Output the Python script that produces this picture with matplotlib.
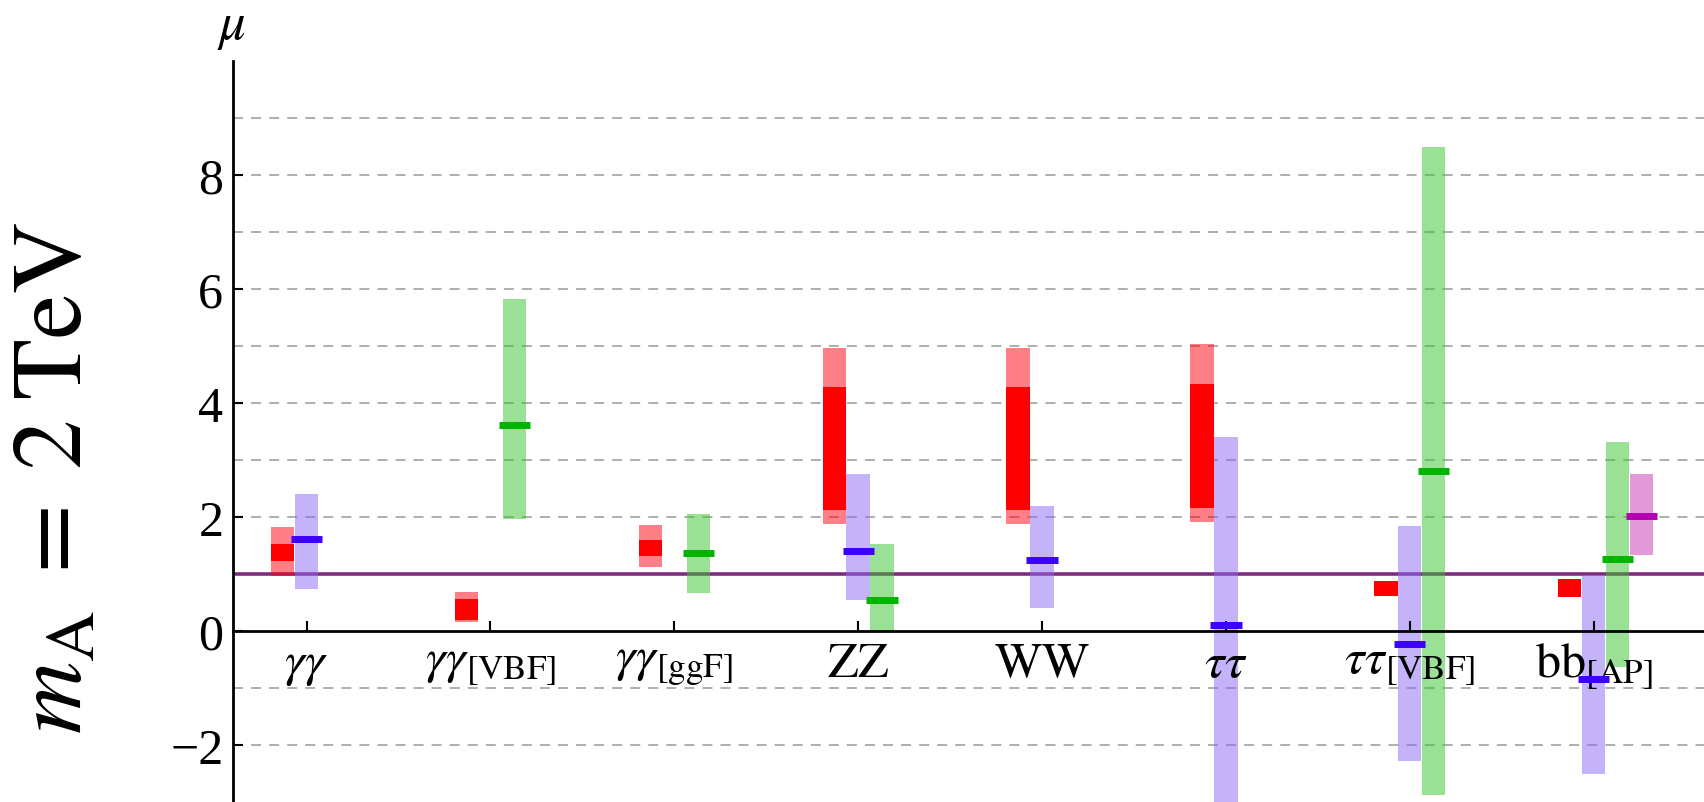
import numpy as np
import matplotlib
matplotlib.use("Agg")
import matplotlib.pyplot as plt

plt.rcParams['font.family'] = ['Liberation Serif', 'DejaVu Serif']
plt.rcParams['mathtext.fontset'] = 'stix'
plt.rcParams['lines.scale_dashes'] = False

nan = np.nan

channels = [r'$\gamma\gamma$', r'$\gamma\gamma_{[\mathrm{VBF}]}$', r'$\gamma\gamma_{[\mathrm{ggF}]}$',
            r'$\mathrm{ZZ}$', r'$\mathrm{WW}$', r'$\tau\tau$',
            r'$\tau\tau_{[\mathrm{VBF}]}$', r'$\mathrm{bb}_{[\mathrm{AP}]}$']

# red: outer (light) and inner (dark) ranges
red_lo2 = [0.97, 0.15, 1.12, 1.88, 1.88, 1.91, 0.61, 0.60]
red_hi2 = [1.82, 0.68, 1.86, 4.97, 4.97, 5.03, 0.88, 0.92]
red_lo1 = [1.22, 0.20, 1.31, 2.13, 2.13, 2.16, 0.61, 0.60]
red_hi1 = [1.52, 0.57, 1.60, 4.28, 4.28, 4.33, 0.88, 0.92]

blue_lo = [0.73, nan, nan, 0.54, 0.40, -3.60, -2.28, -2.50]
blue_hi = [2.40, nan, nan, 2.75, 2.20, 3.41, 1.85, 0.99]
blue_mid = [1.61, nan, nan, 1.40, 1.25, 0.11, -0.22, -0.84]

green_lo = [nan, 1.97, 0.67, 0.00, nan, nan, -2.88, -0.63]
green_hi = [nan, 5.82, 2.06, 1.52, nan, nan, 8.50, 3.32]
green_mid = [nan, 3.62, 1.37, 0.55, nan, nan, 2.80, 1.27]

mag_lo = [nan, nan, nan, nan, nan, nan, nan, 1.33]
mag_hi = [nan, nan, nan, nan, nan, nan, nan, 2.75]
mag_mid = [nan, nan, nan, nan, nan, nan, nan, 2.01]

mu_sm = 1.0

W = 0.127      # bar width
DX = 0.13      # shift between neighbouring bars
HALF = 0.085   # half length of the central-value dash

fig = plt.figure(figsize=(17.04, 8.03), dpi=100)
ax = fig.add_axes([233 / 1704, 0, 1 - 233 / 1704, 1 - 62 / 803])

xs = np.arange(1, len(channels) + 1)


def band(xpos, lo, hi, color, alpha=1.0, z=1.0, mid=None, mid_color=None):
    lo = np.asarray(lo, float)
    hi = np.asarray(hi, float)
    ok = ~np.isnan(lo)
    ax.bar(xpos[ok], hi[ok] - lo[ok], bottom=lo[ok], width=W, color=color,
           alpha=alpha, linewidth=0, zorder=z)
    if mid is not None:
        mid = np.asarray(mid, float)
        ax.hlines(mid[ok], xpos[ok] - HALF, xpos[ok] + HALF, colors=mid_color,
                  linewidth=5, zorder=2)


# dashed grid at every integer
for g in np.arange(-2, 10):
    if g != 0:
        ax.axhline(g, color='#a8a8a8', lw=1.3, ls=(0, (7.2, 5.8)), zorder=0.5)

ax.axhline(mu_sm, color='#7d2c7d', lw=2.6, zorder=0.8)

band(xs - DX, red_lo2, red_hi2, '#ff0011', alpha=0.5)
band(xs - DX, red_lo1, red_hi1, '#ff0000', z=1.1)
band(xs, blue_lo, blue_hi, '#8b69f5', alpha=0.5, mid=blue_mid, mid_color='#3c00ff')
band(xs + DX, green_lo, green_hi, '#37c52d', alpha=0.5, mid=green_mid, mid_color='#00b400')
band(xs + 2 * DX, mag_lo, mag_hi, '#c535b1', alpha=0.5, mid=mag_mid, mid_color='#b400b4')

ax.set_xlim(0.6, 8.6)
ax.set_ylim(-3, 10)

for s in ['top', 'right']:
    ax.spines[s].set_visible(False)
ax.spines['bottom'].set_position(('data', 0))
ax.spines['left'].set_linewidth(2.0)
ax.spines['bottom'].set_linewidth(2.0)

ax.set_xticks(xs, channels)
ax.set_yticks([-2, 0, 2, 4, 6, 8])
ax.tick_params(axis='both', direction='in', length=7, width=1.5, labelsize=36)
ax.tick_params(axis='x', pad=7)
ax.tick_params(axis='y', pad=7)
ax.patch.set_alpha(0)

fig.text(232 / 1704, 1 - 28 / 803, r'$\mu$', ha='center', va='center', fontsize=38)
fig.text(58 / 1704, 1 - 478 / 803, r'$m_{\mathrm{A}}\;=\;2\;\mathrm{TeV}$', rotation=90,
         ha='center', va='center', fontsize=72)

fig.savefig('out.png', dpi=100, facecolor='white')
